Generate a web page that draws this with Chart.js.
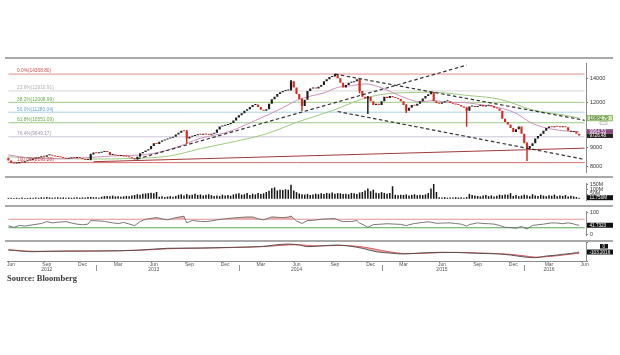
<!DOCTYPE html>
<html><head><meta charset="utf-8">
<script src="https://cdn.jsdelivr.net/npm/chart.js@4.4.1/dist/chart.umd.min.js"></script>
<style>
html,body{margin:0;padding:0;background:#fff;width:620px;height:355px;overflow:hidden}
#wrap{position:relative;width:620px;height:355px}
canvas{position:absolute;left:0}
.sep{position:absolute;left:5px;width:608px;height:2px;background:#a9a9a9}
#src{position:absolute;left:7px;top:274px;font:bold 8.5px "Liberation Serif",serif;color:#3a3a3a;line-height:1}
</style></head><body>
<div id="wrap">
<canvas id="cMain" width="620" height="120" style="top:58px;width:620px;height:120px"></canvas>
<canvas id="cVol" width="620" height="28" style="top:178px;width:620px;height:28px"></canvas>
<canvas id="cRsi" width="620" height="35" style="top:206px;width:620px;height:35px"></canvas>
<canvas id="cMacd" width="620" height="33" style="top:241px;width:620px;height:33px"></canvas>
<div class="sep" style="top:57px"></div>
<div class="sep" style="top:176px"></div>
<div class="sep" style="top:205px"></div>
<div class="sep" style="top:240px"></div>
<div id="src">Source: Bloomberg</div>
</div>
<script>
// ---------- data (weekly bars, first week 24 May 2012) ----------
const WEEK_START = [2012, 4, 24];
const WEEKS = 211; // 209 weekly bars + 2 empty weeks at the right edge

const opens = [
8450,8300,8180,8150,8160,8230,8200,8260,8300,8330,
8400,8420,8480,8530,8500,8580,8610,8560,8520,8490,
8470,8440,8400,8420,8470,8440,8460,8430,8380,8330,
8360,8620,8740,8700,8720,8760,8800,8770,8600,8620,
8570,8550,8580,8520,8500,8470,8420,8360,8500,8700,
8760,8850,8920,9100,9270,9220,9350,9420,9480,9550,
9600,9650,9800,9900,10030,10000,9550,9650,9700,9750,
9800,9780,9835,9800,9780,9835,9900,10100,10300,10350,
10400,10450,10540,10700,10900,11060,11200,11390,11500,11650,
11800,11850,11660,11450,11390,11500,11900,12250,12450,12660,
12800,12900,12950,13000,13730,13200,12660,12260,11730,12200,
12900,13100,13200,13100,13250,13400,13730,13900,14100,14200,
14360,14000,13600,13200,13400,13600,13650,13730,13900,12900,
12445,12300,12445,12100,11800,11900,11800,12100,12440,12350,
12500,12400,12350,12260,12085,11800,11390,11600,11800,11750,
11900,12100,12300,12500,12640,12820,12085,11950,11900,12000,
12085,12085,11950,11900,11850,11800,11700,11600,11390,11700,
11730,11650,11730,11800,11700,11760,11800,11730,11600,11550,
11390,10820,10600,10430,10200,9950,10129,10300,9835,9270,
8940,9100,9270,9550,9700,9835,10030,10200,10300,10250,
10300,10280,10250,10300,10250,10030,9950,9980,9835];

const closes = [
8300,8180,8150,8160,8230,8200,8260,8300,8330,8400,
8420,8480,8530,8500,8580,8610,8560,8520,8490,8470,
8440,8400,8420,8470,8440,8460,8430,8380,8330,8360,
8620,8740,8700,8720,8760,8800,8770,8600,8620,8570,
8550,8580,8520,8500,8470,8420,8360,8500,8700,8760,
8850,8920,9100,9270,9220,9350,9420,9480,9550,9600,
9650,9800,9900,10030,10000,9550,9650,9700,9750,9800,
9780,9835,9800,9780,9835,9900,10100,10300,10350,10400,
10450,10540,10700,10900,11060,11200,11390,11500,11650,11800,
11850,11660,11450,11390,11500,11900,12250,12450,12660,12800,
12900,12950,13000,13730,13200,12660,12260,11730,12200,12900,
13100,13200,13100,13250,13400,13730,13900,14100,14200,14360,
14000,13600,13200,13400,13600,13650,13730,13900,12900,12445,
12300,12445,12100,11800,11900,11800,12100,12440,12350,12500,
12400,12350,12260,12085,11800,11390,11600,11800,11750,11900,
12100,12300,12500,12640,12820,12085,11950,11900,12000,12085,
12085,11950,11900,11850,11800,11700,11600,11390,11700,11730,
11650,11730,11800,11700,11760,11800,11730,11600,11550,11390,
10820,10600,10430,10200,9950,10129,10300,9835,9270,8940,
9100,9270,9550,9700,9835,10030,10200,10300,10250,10300,
10280,10250,10300,10250,10030,9950,9980,9835,9726.48];

// [week, low, high] for the visible wicks
const wicks = [[30,8330,8650],[65,9250,10050],[103,12950,13800],[107,11390,12300],[119,14150,14368.8],
  [128,12750,13950],[131,11170,12480],[145,11250,11850],[167,10300,11650],[189,8300,9300]];

const volumes = [
10,12,9,11,8,13,10,9,12,11,14,10,
16,13,18,15,12,14,17,13,15,12,14,11,13,16,12,15,14,18,20,17,16,15,
22,28,30,26,34,25,27,23,26,30,28,
34,40,48,42,52,56,60,64,58,72,
22,26,20,24,28,22,30,
42,48,36,50,38,44,52,40,46,36,42,48,38,
30,34,28,44,36,40,32,46,
52,58,44,48,60,40,54,46,62,50,58,
72,84,110,120,88,96,92,100,94,
148,
86,70,56,48,44,52,40,
46,54,48,58,50,62,56,66,52,60,58,50,
54,48,62,58,50,66,72,
88,108,80,96,64,58,70,62,54,60,
131,
42,38,44,40,46,36,42,48,38,44,40,46,
62,108,155,72,
16,14,18,12,15,13,17,14,16,12,18,
52,40,36,
30,26,34,40,28,36,24,32,
44,38,46,42,60,
30,40,26,34,44,38,28,48,36,30,42,34,26,38,32,44,28,36,30,40,24,32,26,20,11.75];

// moving averages read at [week, value]
const pinkMA = [[0,8600],[10,8400],[20,8390],[30,8470],[40,8560],[50,8620],[60,8960],[70,9560],[80,9950],[90,10700],
  [100,11600],[105,12150],[110,12490],[115,12750],[120,13200],[125,13350],[130,13500],[135,13250],[140,12780],[145,12320],
  [150,12050],[155,12150],[160,12000],[165,12000],[170,11900],[175,11750],[180,11550],[185,11200],[190,10600],[195,10250],
  [200,10080],[205,9990],[208,9964.53]];
const greenMA = [[0,8500],[15,8420],[30,8380],[47,8420],[59,8550],[70,8950],[82,9350],[94,9835],[106,10640],[118,11390],
  [131,12400],[142,12750],[155,12800],[167,12550],[179,12250],[191,11450],[203,11060],[208,10862.79]];

// drawn trend lines [week, value]
const supportLine = [[31,8240],[210,8980]];
const riseTrend = [[47,8386],[167,15203]];
const channelTop = [[119,14368.8],[210,10716]];
const channelBottom = [[120,11329],[210,8362]];

// Fibonacci retracement levels
const fibPct = ['0.0%','23.6%','38.2%','50.0%','61.8%','76.4%','100.0%'];
const fibVal = [14368.80,12910.91,12008.99,11280.04,10551.09,9649.17,8191.28];
const fibColor = ['#e58b8b','#d6d6d6','#9ccc86','#a9d2e4','#9ccc86','#cdc3d8','#dc6b6b'];
const fibText = ['#d05050','#b0b0b0','#6aa84f','#69a9cf','#6aa84f','#a497b6','#cc4444'];

const priceTicks = [8000,9000,10000,12000,14000];
const volTicks = [50,100,150];
const rsiTicks = [0,100];

// RSI read at [week, value]
const rsi = [[0,39],[2,32],[4,41],[6,38],[9,44],[12,50],[14,59],[16,53],[18,56],[21,59],[23,52],[25,47],[27,44],[29,47],
  [30,64],[33,62],[35,60],[38,53],[40,50],[42,55],[45,44],[46,40],[48,59],[50,70],[52,74],[54,78],[56,72],[58,67],[60,74],
  [62,80],[64,84],[65,53],[67,64],[70,60],[72,59],[74,62],[76,67],[79,72],[82,76],[84,78],[86,80],[89,81],[91,72],[93,67],
  [95,76],[96,81],[98,79],[100,78],[102,80],[103,85],[105,62],[107,50],[109,64],[110,64],[112,66],[114,70],[117,72],[119,73],
  [121,62],[122,59],[125,59],[127,64],[128,52],[130,40],[131,32],[133,45],[135,46],[138,49],[141,47],[143,46],[145,40],
  [146,44],[148,50],[151,55],[153,58],[154,56],[156,51],[158,52],[161,53],[163,50],[165,47],[167,38],[168,45],[171,53],
  [173,50],[175,49],[177,47],[179,41],[180,36],[181,32],[183,31],[185,28],[187,36],[188,30],[189,24],[191,41],[193,44],
  [195,47],[198,53],[200,52],[202,49],[204,53],[206,48],[207,44],[208,41.73]];

// MACD read at weeks macdK
const macdK = [0,9,21,33,48,58,70,82,92,102,106,109,113,120,124,129,134,139,144,150,158,164,171,179,183,188,192,196,200,203,207,208];
const macdV = [-67,-97,-85,-85,-67,-36,-31,-18,-4,41,23,-7,5,23,5,-36,-97,-121,-139,-121,-108,-112,-126,-139,-157,-193,-205,-175,-157,-139,-115,-103];
const signalV = [-60,-90,-88,-84,-72,-45,-33,-22,-8,25,28,15,6,15,12,-10,-55,-100,-128,-128,-112,-110,-120,-132,-145,-172,-195,-188,-170,-152,-130,-125];

const xTickDates = ['2012-06-01','2012-09-01','2012-12-01','2013-03-01','2013-06-01','2013-09-01','2013-12-01','2014-03-01',
  '2014-06-01','2014-09-01','2014-12-01','2015-03-01','2015-06-01','2015-09-01','2015-12-01','2016-03-01','2016-06-01'];
const xTickLabels = [['Jun',''],['Sep','2012'],['Dec',''],['Mar',''],['Jun','2013'],['Sep',''],['Dec',''],['Mar',''],
  ['Jun','2014'],['Sep',''],['Dec',''],['Mar',''],['Jun','2015'],['Sep',''],['Dec',''],['Mar','2016'],['Jun','']];
const yearMarks = ['2013-01-01','2014-01-01','2015-01-01','2016-01-01'];

const lastValues = {ma50:10862.79, ma20:9964.53, last:9726.48, vol:11.75, rsi:41.7323, macd:-103.2016};

// ---------- build ----------
const labels = Array.from({length: WEEKS}, (_, i) =>
  new Date(Date.UTC(WEEK_START[0], WEEK_START[1], WEEK_START[2] + 7 * i)).toISOString().slice(0, 10));
function nearestIdx(ds) {
  const t = Date.parse(ds); let best = 0, bd = Infinity;
  labels.forEach((l, i) => { const d = Math.abs(Date.parse(l) - t); if (d < bd) { bd = d; best = i; } });
  return best;
}
const xTickIdx = xTickDates.map(nearestIdx);
const pts = arr => arr.map(([k, v]) => ({x: labels[k], y: v}));

Chart.defaults.font.family = '"Liberation Sans", Arial, sans-serif';
Chart.defaults.plugins.legend.display = false;
Chart.defaults.plugins.tooltip.enabled = false;

const FONT = '"Liberation Sans", Arial, sans-serif';
const base = {
  responsive: false, animation: false, devicePixelRatio: 1, events: [],
  layout: {padding: {left: 7, right: 0, top: 1, bottom: 1}}
};
const fixW = s => { s.width = 34; };
const yCommon = (extra) => Object.assign({
  position: 'right', afterFit: fixW,
  grid: {display: true, drawOnChartArea: false, tickLength: 2, color: '#777'},
  border: {display: true, color: '#8a8a8a', width: 1},
  ticks: {font: {size: 5.5}, color: '#333', padding: 2}
}, extra);
const xHidden = {type: 'category', offset: true, display: false};

function box(ctx, y, h, text, fill, color, stroke, x, w) {
  x = x || 587; w = w || 26;
  ctx.save();
  ctx.fillStyle = fill; ctx.fillRect(x, y - h / 2, w, h);
  if (stroke) { ctx.strokeStyle = stroke; ctx.lineWidth = 0.7; ctx.strokeRect(x + 0.35, y - h / 2 + 0.35, w - 0.7, h - 0.7); }
  ctx.fillStyle = color; ctx.font = '4.6px ' + FONT; ctx.textBaseline = 'middle'; ctx.textAlign = 'left';
  ctx.fillText(text, x + 2.5, y + 0.3);
  ctx.restore();
}

// ---------- main price panel ----------
const bodyData = closes.map((c, i) => [opens[i], c]);
const candleColor = closes.map((c, i) => c >= opens[i] ? '#1e1e1e' : '#d6281f');
const wickData = labels.map(() => null);
wicks.forEach(([k, lo, hi]) => { wickData[k] = [lo, hi]; });

const mainPlugin = {
  id: 'mainDeco',
  afterDraw(chart) {
    const ctx = chart.ctx, ys = chart.scales.y;
    ctx.save();
    ctx.font = '4.8px ' + FONT; ctx.textBaseline = 'bottom'; ctx.textAlign = 'left';
    fibVal.forEach((v, i) => {
      const y = ys.getPixelForValue(v);
      ctx.fillStyle = fibText[i];
      ctx.fillText(fibPct[i] + '(' + v.toFixed(2) + ')', 17, y - 0.6);
    });
    ctx.restore();
    const yg = ys.getPixelForValue(lastValues.ma50);
    box(ctx, yg, 6, lastValues.ma50.toFixed(2), '#cfe8b5', '#2f5a1a', '#79a85a');
    ctx.save(); ctx.fillStyle = '#f2f2f2'; ctx.strokeStyle = '#aaa'; ctx.lineWidth = 0.6;
    ctx.fillRect(600, yg + 3.5, 7, 3); ctx.strokeRect(600, yg + 3.5, 7, 3); ctx.restore();
    const yp = ys.getPixelForValue(lastValues.ma20), yl = ys.getPixelForValue(lastValues.last);
    box(ctx, yp - 0.4, 4.4, lastValues.ma20.toFixed(2), '#8b4a86', '#fff');
    box(ctx, yl + 0.2, 4.4, lastValues.last.toFixed(2), '#2d1f1f', '#fff');
  }
};

new Chart(document.getElementById('cMain'), {
  type: 'bar',
  data: {labels, datasets: [
    ...fibVal.map((v, i) => ({type: 'line', data: pts([[0, v], [WEEKS - 1, v]]), borderColor: fibColor[i],
      borderWidth: 1, pointRadius: 0, order: 20})),
    {type: 'line', data: pts(supportLine), borderColor: '#a33a3a', borderWidth: 1, pointRadius: 0, order: 15},
    {type: 'line', data: pts(greenMA), borderColor: '#9fca7e', borderWidth: 1, pointRadius: 0, cubicInterpolationMode: 'monotone', order: 12},
    {type: 'line', data: pts(pinkMA), borderColor: '#cf8fc0', borderWidth: 1, pointRadius: 0, cubicInterpolationMode: 'monotone', order: 11},
    {type: 'bar', data: wickData, backgroundColor: labels.map((_, i) => candleColor[i] || '#000'), barThickness: 0.8, grouped: false, order: 6},
    {type: 'bar', data: bodyData, backgroundColor: candleColor, barPercentage: 0.78, categoryPercentage: 1, grouped: false, minBarLength: 1, order: 5},
    ...[riseTrend, channelTop, channelBottom].map(t => ({type: 'line', data: pts(t), borderColor: '#333',
      borderWidth: 1.2, borderDash: [3.5, 2.5], pointRadius: 0, order: 1}))
  ]},
  options: Object.assign({}, base, {
    scales: {
      x: xHidden,
      y: yCommon({type: 'logarithmic', min: 7685, max: 15383,
        afterBuildTicks: s => { s.ticks = priceTicks.map(v => ({value: v})); },
        ticks: {font: {size: 5.5}, color: '#333', padding: 2, callback: v => String(v)}})
    }
  }),
  plugins: [mainPlugin]
});

// ---------- volume panel ----------
new Chart(document.getElementById('cVol'), {
  type: 'bar',
  data: {labels, datasets: [{data: volumes, backgroundColor: '#141414', barPercentage: 0.55, categoryPercentage: 1}]},
  options: Object.assign({}, base, {
    scales: {
      x: xHidden,
      y: yCommon({min: -21.4, max: 164.3,
        afterBuildTicks: s => { s.ticks = volTicks.map(v => ({value: v})); },
        ticks: {font: {size: 5.2}, color: '#333', padding: 2, callback: v => v + 'M'}})
    }
  }),
  plugins: [{id: 'volBox', afterDraw(chart) {
    box(chart.ctx, chart.scales.y.getPixelForValue(lastValues.vol), 5, lastValues.vol.toFixed(3) + 'M', '#111', '#fff');
  }}]
});

// ---------- RSI panel ----------
new Chart(document.getElementById('cRsi'), {
  type: 'line',
  data: {labels, datasets: [
    {data: pts(rsi), borderColor: '#6a6a6a', borderWidth: 0.9, pointRadius: 0, order: 2,
      fill: {target: {value: 70}, above: 'rgba(226,120,120,0.55)', below: 'rgba(0,0,0,0)'}},
    {data: pts(rsi), borderWidth: 0, borderColor: 'rgba(0,0,0,0)', pointRadius: 0, order: 3,
      fill: {target: {value: 30}, above: 'rgba(0,0,0,0)', below: 'rgba(110,185,110,0.6)'}},
    {data: pts([[0, 70], [WEEKS - 1, 70]]), borderColor: '#e39a9a', borderWidth: 1, pointRadius: 0, order: 4},
    {data: pts([[0, 30], [WEEKS - 1, 30]]), borderColor: '#59a85a', borderWidth: 1, pointRadius: 0, order: 4}
  ]},
  options: Object.assign({}, base, {
    scales: {
      x: xHidden,
      y: yCommon({min: -8.1, max: 108.1,
        afterBuildTicks: s => { s.ticks = rsiTicks.map(v => ({value: v})); },
        ticks: {font: {size: 5.2}, color: '#333', padding: 2, callback: v => String(v)}})
    }
  }),
  plugins: [{id: 'rsiBox', afterDraw(chart) {
    box(chart.ctx, chart.scales.y.getPixelForValue(lastValues.rsi), 5, lastValues.rsi.toFixed(4), '#111', '#fff');
  }}]
});

// ---------- MACD panel + time axis ----------
new Chart(document.getElementById('cMacd'), {
  type: 'line',
  data: {labels, datasets: [
    {data: pts(macdK.map((k, i) => [k, macdV[i]])), borderColor: '#4a4a4a', borderWidth: 0.9, pointRadius: 0,
      cubicInterpolationMode: 'monotone', fill: '+1', backgroundColor: 'rgba(215,95,95,0.45)'},
    {data: pts(macdK.map((k, i) => [k, signalV[i]])), borderColor: '#d44848', borderWidth: 0.9, pointRadius: 0,
      cubicInterpolationMode: 'monotone'}
  ]},
  options: Object.assign({}, base, {
    layout: {padding: {left: 7, right: 0, top: 1, bottom: 0}},
    scales: {
      x: {type: 'category', offset: true, position: 'bottom',
        afterBuildTicks: s => { s.ticks = xTickIdx.map(i => ({value: i})); },
        afterFit: s => { s.height = 13; },
        ticks: {autoSkip: false, maxRotation: 0, minRotation: 0, font: {size: 5, lineHeight: 0.95}, color: '#555', padding: 0,
          callback: (v, i) => xTickLabels[i]},
        grid: {drawOnChartArea: false, tickLength: 1, color: '#888'},
        border: {display: true, color: '#8a8a8a'}},
      y: yCommon({min: -264.6, max: 77.4, ticks: {display: false}})
    }
  }),
  plugins: [{id: 'macdDeco', afterDraw(chart) {
    const ctx = chart.ctx, xs = chart.scales.x, ys = chart.scales.y, a = chart.chartArea;
    ctx.save(); ctx.strokeStyle = '#777'; ctx.lineWidth = 0.8;
    yearMarks.forEach(d => {
      const x = Math.round(xs.getPixelForValue(nearestIdx(d))) + 0.5;
      ctx.beginPath(); ctx.moveTo(x, a.bottom + 4); ctx.lineTo(x, a.bottom + 10); ctx.stroke();
    });
    ctx.restore();
    box(ctx, ys.getPixelForValue(0), 4.5, '0', '#111', '#fff', null, 600, 8);
    box(ctx, ys.getPixelForValue(lastValues.macd), 5, lastValues.macd.toFixed(4), '#111', '#fff');
  }}]
});
</script>
</body></html>
